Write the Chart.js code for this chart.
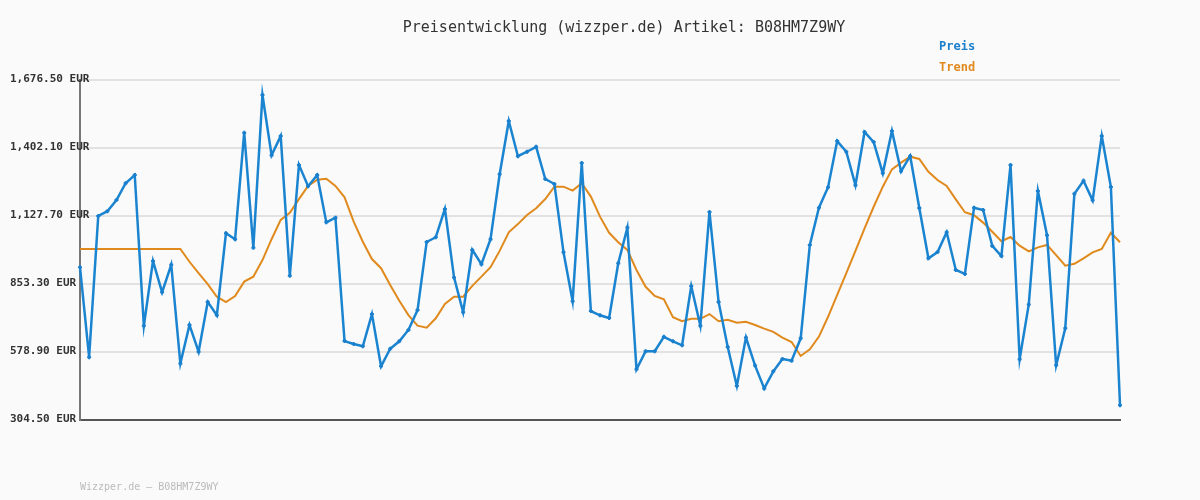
<!DOCTYPE html>
<html lang="de">
<head>
<meta charset="utf-8">
<title>Preisentwicklung</title>
<script src="https://cdn.jsdelivr.net/npm/chart.js"></script>
<style>
  body { margin: 0; background: #fafafa; font-family: "DejaVu Sans Mono", monospace; }
  #wrap { position: relative; width: 1200px; height: 500px; }
  #title { position: absolute; top: 18px; left: 0; width: 1248px; text-align: center; font-size: 15px; color: #333; }
  .leg { position: absolute; left: 939px; font-size: 12px; font-weight: bold; }
  #foot { position: absolute; left: 80px; top: 481px; font-size: 10px; color: #bbb; }
</style>
</head>
<body>
<div id="wrap">
  <canvas id="priceChart" width="1200" height="500"></canvas>
  <div id="title">Preisentwicklung (wizzper.de) Artikel: B08HM7Z9WY</div>
  <div class="leg" style="top:39px;color:#1a7fcc">Preis</div>
  <div class="leg" style="top:60px;color:#e08a1e">Trend</div>
  <div id="foot">Wizzper.de – B08HM7Z9WY</div>
</div>
<script>
// Preis in EUR
const preis = [
  921, 558, 1128, 1147, 1192, 1260, 1293, 685, 946, 820, 931, 532, 688, 580, 781, 727, 1058, 1034, 1464, 1000,
  1616, 1373, 1451, 887, 1334, 1248, 1293, 1102, 1121, 623, 611, 602, 732, 521, 592, 622, 668, 748, 1023, 1042,
  1156, 880, 739, 991, 933, 1034, 1296, 1511, 1369, 1387, 1407, 1277, 1257, 981, 784, 1342, 744, 727, 716, 937,
  1081, 509, 582, 582, 640, 622, 606, 845, 685, 1144, 781, 599, 442, 637, 524, 432, 501, 551, 544, 634,
  1011, 1161, 1244, 1430, 1387, 1252, 1467, 1426, 1300, 1471, 1308, 1370, 1160, 957, 982, 1062, 910, 894, 1161, 1152,
  1007, 966, 1334, 550, 771, 1229, 1050, 525, 675, 1217, 1270, 1191, 1451, 1245, 364
];
const trend = [
  995, 995, 995, 995, 995, 995, 995, 995, 995, 995, 995, 995, 943, 897, 853, 802, 780, 805, 863, 883,
  950, 1034, 1112, 1141, 1196, 1249, 1274, 1278, 1249, 1203, 1105, 1024, 954, 917, 849, 786, 728, 685, 677, 715,
  773, 802, 802, 846, 883, 921, 987, 1062, 1095, 1132, 1159, 1196, 1246, 1246, 1230, 1260, 1206, 1125, 1060, 1022,
  991, 910, 842, 805, 792, 719, 703, 713, 713, 732, 703, 709, 697, 701, 688, 673, 660, 637, 619, 563,
  590, 641, 721, 809, 897, 987, 1078, 1165, 1246, 1316, 1343, 1367, 1358, 1306, 1273, 1249, 1195, 1143, 1131, 1101,
  1064, 1026, 1043, 1008, 985, 1001, 1011, 970, 927, 935, 957, 981, 995, 1060, 1022
];
const labels = preis.map((v, i) => i + 1);
const yMin = 304.5, yMax = 1676.5, yStep = 274.4;

const fmt = v => v.toLocaleString('en-US', { minimumFractionDigits: 2, maximumFractionDigits: 2 }) + ' EUR';

// tick labels sit left-aligned above their grid line
const yLabels = {
  id: 'yLabels',
  afterDraw(chart) {
    const { ctx, scales: { y } } = chart;
    ctx.save();
    ctx.font = 'bold 11px "DejaVu Sans Mono"';
    ctx.fillStyle = '#333';
    ctx.textAlign = 'left';
    ctx.textBaseline = 'bottom';
    y.ticks.forEach(t => ctx.fillText(fmt(t.value), 10, y.getPixelForValue(t.value) + 5));
    ctx.restore();
  }
};

new Chart(document.getElementById('priceChart'), {
  type: 'line',
  data: {
    labels: labels,
    datasets: [
      { label: 'Preis', data: preis, borderColor: '#1a84d0', backgroundColor: '#1a7fcc', borderWidth: 2.5,
        pointStyle: 'cross', pointRadius: 2, pointBorderWidth: 2, pointBorderColor: '#1a7fcc', tension: 0 },
      { label: 'Trend', data: trend, borderColor: '#e08a1e', borderWidth: 2, pointRadius: 0, tension: 0 }
    ]
  },
  options: {
    responsive: false,
    animation: false,
    layout: { padding: { top: 80, right: 80, bottom: 80, left: 0 } },
    plugins: { legend: { display: false }, tooltip: { enabled: false } },
    scales: {
      x: {
        offset: false,
        ticks: { display: false },
        grid: { display: false, drawTicks: false },
        border: { color: '#555', width: 2 }
      },
      y: {
        min: yMin, max: yMax,
        afterFit: s => { s.width = 80; },
        afterBuildTicks: s => {
          s.ticks = [];
          for (let i = 0; i <= 5; i++) s.ticks.push({ value: yMin + i * yStep });
        },
        ticks: { display: false },
        grid: { color: '#e2e2e2', lineWidth: 2, drawTicks: false },
        border: { color: '#777', width: 2 }
      }
    }
  },
  plugins: [yLabels]
});
</script>
</body>
</html>
